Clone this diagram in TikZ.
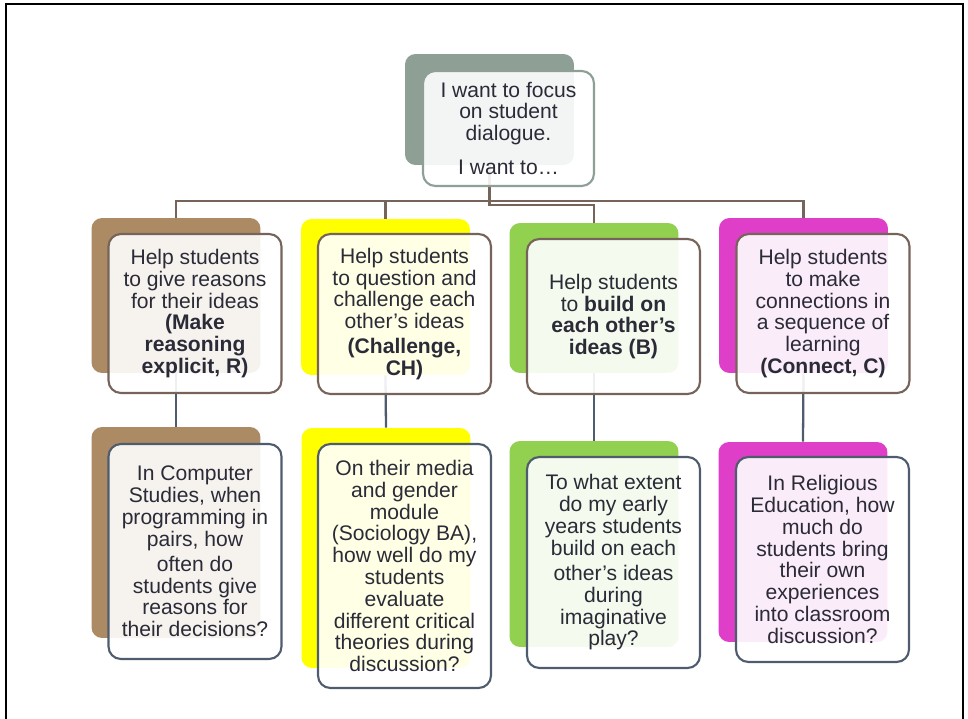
\documentclass[tikz,border=0pt]{standalone}
\usepackage{fontspec}
\setmainfont{Liberation Sans}
\usetikzlibrary{positioning}
\definecolor{topgray}{HTML}{8E9F95}
\definecolor{colR}{HTML}{AC8B64}
\definecolor{colCH}{HTML}{FFFF00}
\definecolor{colB}{HTML}{92D050}
\definecolor{colC}{HTML}{DE3EC8}
\definecolor{linkbrown}{HTML}{76635A}
\definecolor{linkslate}{HTML}{4E5C6D}
\definecolor{inktext}{HTML}{2B2B38}
\tikzset{
    %text of all the boxes
    every node/.style={font=\fontsize{12}{12.4}\selectfont, text=inktext},
}

\begin{document}
\begin{tikzpicture}[
    x=0.02cm, y=-0.02cm,
    back/.style = {fill=#1, rounded corners=6pt, inner sep=0pt,
                   minimum width=3.38cm},
    front/.style = {draw=#1, line width=1.2pt, fill=white, fill opacity=0.9,
                    text opacity=1, rounded corners=7pt, inner sep=1pt,
                    align=center, minimum width=3.46cm},
    link/.style = {draw=linkbrown, line width=1.3pt},
    sublink/.style = {draw=linkslate, line width=1.3pt},
  ]
  \useasboundingbox (0,0) rectangle (968,719);
  \draw[line width=1.7pt] (6,4) rectangle (963,740);

  % back layer
  \node[back=topgray, minimum width=3.38cm, minimum height=2.22cm] (topback) at (489.5,109.5) {};
  \node[back=colR, minimum height=3.10cm] (rback) at (176,295.5) {};
  \node[back=colCH, minimum height=3.12cm] (chback) at (385.5,297) {};
  \node[back=colB, minimum height=3.00cm] (bback) at (594,298) {};
  \node[back=colC, minimum height=3.10cm] (cback) at (803.5,295.5) {};
  \node[back=colR, minimum height=4.22cm] (rqback) at (176,532.5) {};
  \node[back=colCH, minimum height=4.80cm] (chqback) at (386,548) {};
  \node[back=colB, minimum height=4.12cm] (bqback) at (594,544) {};
  \node[back=colC, minimum height=4.00cm] (cqback) at (803,542) {};

  % connectors
  \coordinate (hub) at (489.5,201);
  \draw[link] (topback.south) -- (hub);
  \draw[link] (hub) -| (rback.north);
  \draw[link] (hub) -| (chback.north);
  \draw[link] (hub) -| (cback.north);
  \draw[link] (hub) -- ++(0,4) -| (bback.north);
  \draw[sublink] (rback.south) -- (rqback.north);
  \draw[sublink] (chback.south) -- (chqback.north);
  \draw[sublink] (bback.south) -- (bqback.north);
  \draw[sublink] (cback.south) -- (cqback.north);

  % front layer
  \node[front=topgray, minimum width=3.42cm, minimum height=2.30cm] (top) at (508.5,128.5)
    {I want to focus\\on student\\dialogue.\\[7pt]I want to…};
  \node[front=linkbrown, minimum height=3.18cm] (r) at (195,313.5)
    {Help students\\to give reasons\\for their ideas\\\textbf{(Make}\\\textbf{reasoning}\\\textbf{explicit, R)}};
  \node[front=linkbrown, minimum height=3.20cm] (ch) at (404.5,314)
    {Help students\\to question and\\challenge each\\other’s ideas\\[2pt]\textbf{(Challenge,}\\\textbf{CH)}};
  \node[front=linkbrown, minimum height=3.10cm] (b) at (613.5,316.5)
    {Help students\\to \textbf{build on}\\\textbf{each other’s}\\\textbf{ideas (B)}};
  \node[front=linkbrown, minimum height=3.18cm] (c) at (823,313.5)
    {Help students\\to make\\connections in\\a sequence of\\learning\\\textbf{(Connect, C)}};
  \node[front=linkslate, minimum height=4.30cm] (rq) at (195,551.5)
    {In Computer\\Studies, when\\programming in\\pairs, how\\[2pt]often do\\students give\\reasons for\\their decisions?};
  \node[front=linkslate, minimum height=4.88cm] (chq) at (404.5,566)
    {On their media\\and gender\\module\\(Sociology BA),\\how well do my\\students\\evaluate\\different critical\\theories during\\discussion?};
  \node[front=linkslate, minimum height=4.22cm] (bq) at (613.5,562.5)
    {To what extent\\do my early\\years students\\build on each\\[2pt]other’s ideas\\during\\imaginative\\play?};
  \node[front=linkslate, minimum height=4.10cm] (cq) at (822.5,559.5)
    {In Religious\\Education, how\\much do\\students bring\\their own\\experiences\\into classroom\\discussion?};
\end{tikzpicture}
\end{document}
